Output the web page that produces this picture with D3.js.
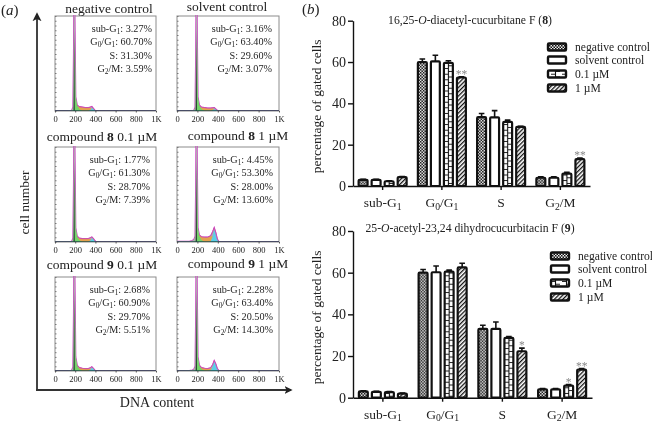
<!DOCTYPE html>
<html>
<head>
<meta charset="utf-8">
<script src="https://d3js.org/d3.v7.min.js"></script>
<style>
  html, body { margin: 0; padding: 0; background: #fff; }
  svg { display: block; filter: blur(0.35px); }
  text { font-family: "Liberation Serif", serif; fill: #222; }
</style>
</head>
<body>
<svg id="viz" width="652" height="424"></svg>
<script>
// ---- flow cytometry panels (a) ----
var panelTitles = [
  ["negative control"], ["solvent control"],
  ["compound ", "8", " 0.1 \u00b5M"], ["compound ", "8", " 1 \u00b5M"],
  ["compound ", "9", " 0.1 \u00b5M"], ["compound ", "9", " 1 \u00b5M"]
];
var subG1Labels = ["3.27%", "3.16%", "1.77%", "4.45%", "2.68%", "2.28%"];
var g0g1Labels  = ["60.70%", "63.40%", "61.30%", "53.30%", "60.90%", "63.40%"];
var sLabels     = ["31.30%", "29.60%", "28.70%", "28.00%", "29.70%", "20.50%"];
var g2mLabels   = ["3.59%", "3.07%", "7.39%", "13.60%", "5.51%", "14.30%"];

// histogram values, % of panel height
var channels  = [0, 120, 150, 165, 178, 184, 190, 196, 205, 220, 240, 270, 300, 330, 350, 365, 380, 395, 410, 430, 1000];
var peakTotal = [0, 0, 0, 0, 3, 60, 150, 105, 15, 6, 3, 0, 0, 0, 0, 0, 0, 0, 0, 0, 0];
var g1Fit     = [0, 0, 0, 0, 0.5, 5, 45, 75, 14, 6, 2, 0, 0, 0, 0, 0, 0, 0, 0, 0, 0];
var g1Core    = [0, 0, 0, 0, 0, 0, 85, 0, 0, 0, 0, 0, 0, 0, 0, 0, 0, 0, 0, 0, 0];
var subBump = [
  [0.3, 0.3, 0.4, 0.6, 1, 0, 0, 0, 0, 0, 0, 0, 0, 0, 0, 0, 0, 0, 0, 0, 0],
  [0.3, 0.3, 0.4, 0.6, 1, 0, 0, 0, 0, 0, 0, 0, 0, 0, 0, 0, 0, 0, 0, 0, 0],
  [0.2, 0.2, 0.3, 0.5, 1, 0, 0, 0, 0, 0, 0, 0, 0, 0, 0, 0, 0, 0, 0, 0, 0],
  [0.5, 0.6, 1.5, 2.5, 3, 0, 0, 0, 0, 0, 0, 0, 0, 0, 0, 0, 0, 0, 0, 0, 0],
  [0.3, 0.3, 0.5, 0.7, 1, 0, 0, 0, 0, 0, 0, 0, 0, 0, 0, 0, 0, 0, 0, 0, 0],
  [0.3, 0.4, 1, 1.8, 2, 0, 0, 0, 0, 0, 0, 0, 0, 0, 0, 0, 0, 0, 0, 0, 0]
];
var sFit = [
  [0, 0, 0, 0, 0, 0, 0, 1, 3, 5, 4.5, 4, 3.5, 3.5, 3.2, 2.2, 1, 0, 0, 0, 0],
  [0, 0, 0, 0, 0, 0, 0, 1, 3, 4.5, 4, 3.5, 3, 3, 2.8, 1.8, 0.8, 0, 0, 0, 0],
  [0, 0, 0, 0, 0, 0, 0, 1, 3, 5, 4, 3.5, 3.5, 3.5, 3.2, 2.2, 1, 0, 0, 0, 0],
  [0, 0, 0, 0, 0, 0, 0, 1, 4, 7, 5.5, 5, 5, 6, 6, 4, 1.5, 0, 0, 0, 0],
  [0, 0, 0, 0, 0, 0, 0, 1, 3, 4.5, 3.5, 2.8, 2.5, 2.5, 2.5, 1.8, 0.8, 0, 0, 0, 0],
  [0, 0, 0, 0, 0, 0, 0, 1, 3, 4.5, 3.5, 2.8, 2.5, 3, 3, 2, 1, 0, 0, 0, 0]
];
var g2Fit = [
  [0, 0, 0, 0, 0, 0, 0, 0, 0, 0, 0, 0, 0, 0, 1, 3, 2, 0.8, 0, 0, 0],
  [0, 0, 0, 0, 0, 0, 0, 0, 0, 0, 0, 0, 0, 0, 0.7, 2, 1.5, 0.6, 0, 0, 0],
  [0, 0, 0, 0, 0, 0, 0, 0, 0, 0, 0, 0, 0, 0, 1.5, 3.8, 3, 1.2, 0, 0, 0],
  [0, 0, 0, 0, 0, 0, 0, 0, 0, 0, 0, 0, 0, 0.5, 6, 13, 9, 3, 0.5, 0, 0],
  [0, 0, 0, 0, 0, 0, 0, 0, 0, 0, 0, 0, 0, 0, 1.2, 3.2, 2.4, 0.8, 0, 0, 0],
  [0, 0, 0, 0, 0, 0, 0, 0, 0, 0, 0, 0, 0, 0.5, 4.5, 10, 7, 2.5, 0.3, 0, 0]
];

// ---- bar charts (b) ----
var phases = ["sub-G|1", "G|0|/G|1", "S", "G|2|/M"];
var treatments = ["negative control", "solvent control", "0.1 \u00b5M", "1 \u00b5M"];
var patternIds = ["pat-neg", "pat-solvent", "pat-low", "pat-high"];
var yTickValues = [0, 20, 40, 60, 80];

var bars8 = [[3, 3, 2.3, 4.3], [60, 60.3, 59.6, 52.5], [33.3, 33.2, 31, 28.6], [4, 4, 6, 13]];
var errs8 = [[0.3, 0.3, 0.2, 0.3], [1.5, 3, 1, 0.4], [1.8, 3.3, 0.9, 0.3], [0.4, 0.4, 0.6, 0.5]];
var stars8 = [[1, 3, "**"], [3, 3, "**"]];

var bars9 = [[3, 2.8, 2.7, 2], [60, 60.2, 60.5, 62.5], [33, 33, 28.7, 22.3], [4, 4, 5.8, 13.5]];
var errs9 = [[0.3, 0.3, 0.3, 0.2], [1.5, 3, 0.7, 2], [1.8, 3.3, 0.7, 1.5], [0.4, 0.4, 0.5, 0.5]];
var stars9 = [[2, 3, "*"], [3, 2, "*"], [3, 3, "**"]];

var svg = d3.select("#viz");
var defs = svg.append("defs");

// BUILD DEFS FOR BAR PATTERNS
var patNeg = defs.append("pattern").attr("id", "pat-neg")
    .attr("patternUnits", "userSpaceOnUse").attr("width", 3).attr("height", 3);
patNeg.append("rect").attr("width", 3).attr("height", 3).attr("fill", "#eee");
patNeg.append("path").attr("d", "M0 0h1.5v1.5h-1.5zM1.5 1.5h1.5v1.5h-1.5z").attr("fill", "#111");

defs.append("pattern").attr("id", "pat-solvent")
    .attr("patternUnits", "userSpaceOnUse").attr("width", 4).attr("height", 4)
  .append("rect").attr("width", 4).attr("height", 4).attr("fill", "#fff");

var patLow = defs.append("pattern").attr("id", "pat-low")
    .attr("patternUnits", "userSpaceOnUse").attr("width", 11).attr("height", 5.6);
patLow.append("rect").attr("width", 11).attr("height", 5.6).attr("fill", "#fff");
patLow.append("path").attr("d", "M5.5 0V5.6M1 1.4H5.5M5.5 4.2H10")
    .attr("stroke", "#111").attr("stroke-width", 1.1).attr("fill", "none");

var patHigh = defs.append("pattern").attr("id", "pat-high")
    .attr("patternUnits", "userSpaceOnUse").attr("width", 3).attr("height", 3)
    .attr("patternTransform", "rotate(45)");
patHigh.append("rect").attr("width", 3).attr("height", 3).attr("fill", "#fff");
patHigh.append("rect").attr("width", 1.3).attr("height", 3).attr("fill", "#111");

defs.append("marker").attr("id", "arrow")
    .attr("viewBox", "0 0 10 10").attr("refX", 8).attr("refY", 5)
    .attr("markerWidth", 4.5).attr("markerHeight", 5).attr("orient", "auto")
  .append("path").attr("d", "M0 0L10 5L0 10L2.5 5Z").attr("fill", "#222");

// sub/superscript labels: "G|0|/G|1" -> pieces, odd ones are subscripts
function subText(sel, label) {
  label.split("|").forEach(function(piece, i) {
    var sub = i % 2 == 1;
    sel.append("tspan")
        .attr("dy", i == 0 ? 0 : (sub ? "0.28em" : "-0.2em"))
        .style("font-size", sub ? "0.72em" : null)
        .text(piece);
  });
}

// ---- (a) ----
var rowBox = [[16, 111], [147, 242], [277, 371]];
var colBox = [[55, 156], [177, 279]];
var titleAt = [[109, 13], [227, 11], [102, 141], [238, 140], [102, 269], [238, 268]];
var labelRight = [152, 272, 150, 273, 150, 273];

panelTitles.forEach(function(title, p) {
  var col = p % 2, row = (p - col) / 2;
  var x = d3.scaleLinear().domain([0, 1000]).range(colBox[col]);
  var y = d3.scaleLinear().domain([0, 100]).range([rowBox[row][1], rowBox[row][0]]);
  var g = svg.append("g").attr("class", "panel");

  defs.append("clipPath").attr("id", "clip" + p).append("rect")
      .attr("x", colBox[col][0]).attr("y", rowBox[row][0] - 1)
      .attr("width", colBox[col][1] - colBox[col][0])
      .attr("height", rowBox[row][1] - rowBox[row][0] + 1);

  g.append("rect")
      .attr("x", colBox[col][0]).attr("y", rowBox[row][0])
      .attr("width", colBox[col][1] - colBox[col][0])
      .attr("height", rowBox[row][1] - rowBox[row][0])
      .attr("fill", "#fff").attr("stroke", "#8c8c8c").attr("stroke-width", 1);

  var total = channels.map(function(c, i) {
    return subBump[p][i] + Math.max(peakTotal[i], sFit[p][i] + g2Fit[p][i] * 0.8, g2Fit[p][i] + sFit[p][i] * 0.5);
  });
  var area = d3.area().x(function(d) { return x(d[0]); }).y0(y(0)).y1(function(d) { return y(d[1]); });
  var line = d3.line().x(function(d) { return x(d[0]); }).y(function(d) { return y(d[1]); });
  function pts(values) { return values.map(function(v, i) { return [channels[i], v]; }); }
  var plot = g.append("g").attr("clip-path", "url(#clip" + p + ")");

  plot.append("path").datum(pts(total)).attr("d", line).attr("fill", "none").attr("stroke", "#c93cc0").attr("stroke-width", 1.3);
  plot.append("path").datum(pts(total)).attr("d", area).attr("fill", "#b0aab0");
  plot.append("path").datum(pts(sFit[p])).attr("d", area).attr("fill", "#e3a24e");
  plot.append("path").datum(pts(g2Fit[p])).attr("d", area).attr("fill", "#5ccfe6");
  plot.append("path").datum(pts(g1Fit)).attr("d", area).attr("fill", "#74d46a");
  plot.append("path").datum(pts(g1Core)).attr("d", area).attr("fill", "#2c3f38");
  // magenta edge over the S and G2 part of the trace
  plot.append("path").datum(pts(total).slice(9)).attr("d", line).attr("fill", "none").attr("stroke", "#cf45b0").attr("stroke-width", 0.8);
  plot.append("path").datum(pts(channels.map(function() { return 0; }))).attr("d", line)
      .attr("fill", "none").attr("stroke", "#1f4a48").attr("stroke-width", 1.3);

  // minor ticks along left and bottom
  g.append("g").attr("transform", "translate(" + colBox[col][0] + ",0)")
      .call(d3.axisRight(y).ticks(20).tickSize(1.5).tickFormat(""))
      .call(function(s) { s.select(".domain").remove(); s.selectAll("line").attr("stroke", "#777"); });

  var xAxis = g.append("g").attr("transform", "translate(0," + rowBox[row][1] + ")")
      .call(d3.axisBottom(x).tickValues([0, 200, 400, 600, 800, 1000]).tickSize(1.5).tickPadding(3)
        .tickFormat(function(d) { return d == 1000 ? "1K" : d; }));
  xAxis.select(".domain").remove();
  xAxis.selectAll("line").attr("stroke", "#555");
  xAxis.selectAll("text").style("font-family", "Liberation Serif").style("font-size", "8.5px").attr("fill", "#222");

  var titleText = g.append("text")
      .attr("x", titleAt[p][0]).attr("y", titleAt[p][1])
      .attr("text-anchor", "middle").style("font-size", "13.5px");
  title.forEach(function(piece, i) {
    titleText.append("tspan").style("font-weight", i == 1 ? "bold" : null).text(piece);
  });

  [["sub-G|1|: ", subG1Labels[p]], ["G|0|/G|1|: ", g0g1Labels[p]], ["S: ", sLabels[p]], ["G|2|/M: ", g2mLabels[p]]]
    .forEach(function(d, i) {
      var t = g.append("text")
          .attr("x", labelRight[p]).attr("y", rowBox[row][0] + 16 + i * 13.4)
          .attr("text-anchor", "end").style("font-size", "10.2px");
      subText(t, d[0] + d[1]);
    });
});

// big axes
svg.append("path").attr("d", "M37 391V14").attr("stroke", "#444").attr("stroke-width", 2)
    .attr("fill", "none").attr("marker-end", "url(#arrow)");
svg.append("path").attr("d", "M36 390H291").attr("stroke", "#333").attr("stroke-width", 1.8)
    .attr("fill", "none").attr("marker-end", "url(#arrow)");
svg.append("text").attr("transform", "translate(29,202.5) rotate(-90)")
    .attr("text-anchor", "middle").style("font-size", "13.5px").text("cell number");
svg.append("text").attr("x", 157).attr("y", 407)
    .attr("text-anchor", "middle").style("font-size", "14px").text("DNA content");

svg.append("text").attr("x", 1).attr("y", 15).style("font-size", "15px")
    .html('(<tspan font-style="italic">a</tspan>)');
svg.append("text").attr("x", 302).attr("y", 14).style("font-size", "15px")
    .html('(<tspan font-style="italic">b</tspan>)');

// ---- (b) ----
function drawBars(opts) {
  var g = svg.append("g");
  var x = d3.scaleBand().domain(phases).range(opts.xRange);
  var inner = d3.scaleBand().domain(treatments).range([-25, 25]).paddingInner(0.16);
  var y = d3.scaleLinear().domain([0, 80]).range(opts.yRange);

  phases.forEach(function(ph, i) {
    var cx = x(ph) + x.bandwidth() / 2;
    treatments.forEach(function(tr, j) {
      var left = cx + inner(tr), bw = inner.bandwidth(), v = opts.values[i][j], e = opts.errs[i][j];
      var mid = bw / 2;
      // each bar in its own group so the fill pattern starts at the bar's left edge
      var bar = g.append("g").attr("transform", "translate(" + left + ",0)");
      // error bar
      bar.append("path")
          .attr("d", "M" + mid + " " + y(v) + "V" + y(v + e) + "M" + (mid - 2.8) + " " + y(v + e) + "H" + (mid + 2.8))
          .attr("stroke", "#111").attr("stroke-width", 1.6).attr("fill", "none");
      bar.append("rect")
          .attr("x", 1).attr("width", bw - 2)
          .attr("y", y(v)).attr("height", y(0) - y(v))
          .attr("rx", 1)
          .attr("fill", "url(#" + patternIds[j] + ")")
          .attr("stroke", "#111").attr("stroke-width", 2.2);
    });
  });

  opts.stars.forEach(function(s) {
    var cx = x(phases[s[0]]) + x.bandwidth() / 2 + inner(treatments[s[1]]) + inner.bandwidth() / 2;
    g.append("text").attr("x", cx).attr("y", y(opts.values[s[0]][s[1]] + opts.errs[s[0]][s[1]]) + 1)
        .attr("text-anchor", "middle").style("font-size", "11.5px").style("fill", "#888").text(s[2]);
  });

  var yAxis = g.append("g").attr("transform", "translate(" + opts.xRange[0] + ",0)")
      .call(d3.axisLeft(y).tickValues(yTickValues).tickSize(5).tickSizeOuter(0).tickPadding(2));
  yAxis.selectAll("path,line").attr("stroke", "#111").attr("stroke-width", 1.4);
  yAxis.selectAll("text").style("font-family", "Liberation Serif").style("font-size", "14px").attr("fill", "#222");

  var xAxis = g.append("g").attr("transform", "translate(0," + y(0) + ")")
      .call(d3.axisBottom(x).tickSize(4).tickSizeOuter(0).tickFormat(""));
  xAxis.selectAll("path,line").attr("stroke", "#111").attr("stroke-width", 1.4);

  phases.forEach(function(ph) {
    var t = g.append("text")
        .attr("x", x(ph) + x.bandwidth() / 2).attr("y", y(0) + 21)
        .attr("text-anchor", "middle").style("font-size", "13.5px");
    subText(t, ph);
  });

  var mid = (opts.yRange[0] + opts.yRange[1]) / 2 + 3;
  g.append("text").attr("transform", "translate(" + 321 + "," + mid + ") rotate(-90)")
      .attr("text-anchor", "middle").style("font-size", "13.5px").text("percentage of gated cells");

  g.append("text").attr("x", 470).attr("y", opts.titleY)
      .attr("text-anchor", "middle").style("font-size", "11.7px").html(opts.title);

  treatments.forEach(function(tr, j) {
    var ly = opts.legendY[j];
    g.append("rect").attr("x", opts.legendX).attr("y", ly - 3.5).attr("width", 18).attr("height", 7).attr("rx", 1)
        .attr("fill", "url(#" + patternIds[j] + ")").attr("stroke", "#111").attr("stroke-width", 2.4);
    g.append("text").attr("x", opts.legendX + 27).attr("y", ly + 4).style("font-size", "11.6px").text(tr);
  });
}

drawBars({
  xRange: [353, 590], yRange: [186, 20.7],
  values: bars8, errs: errs8, stars: stars8,
  title: '16,25-<tspan font-style="italic">O</tspan>-diacetyl-cucurbitane F (<tspan font-weight="bold">8</tspan>)',
  titleY: 24, legendX: 548, legendY: [47, 60, 74, 88]
});
drawBars({
  xRange: [353, 592], yRange: [397.7, 231],
  values: bars9, errs: errs9, stars: stars9,
  title: '25-<tspan font-style="italic">O</tspan>-acetyl-23,24 dihydrocucurbitacin F (<tspan font-weight="bold">9</tspan>)',
  titleY: 232, legendX: 551, legendY: [256, 269, 283, 297]
});
</script>
</body>
</html>
